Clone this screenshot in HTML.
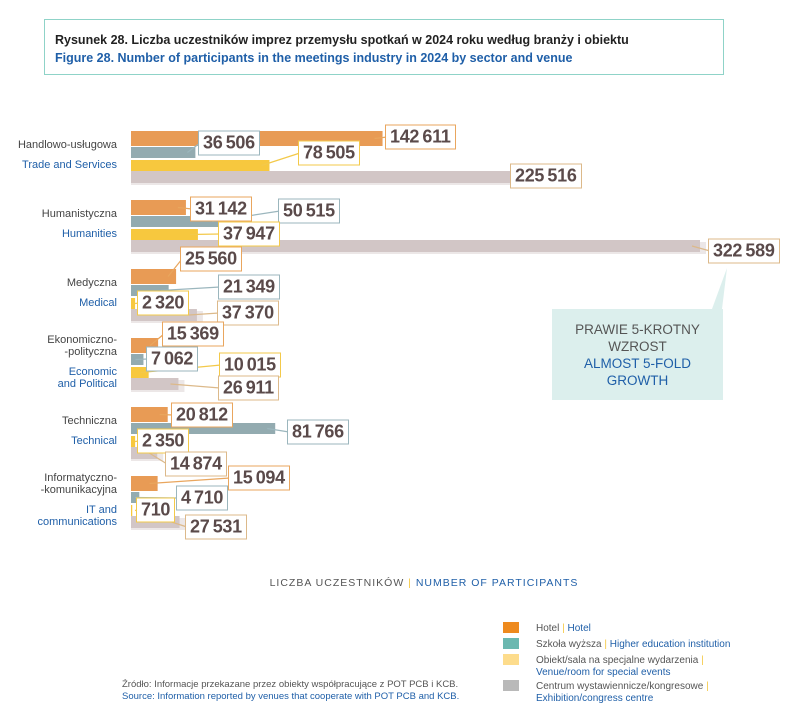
<!DOCTYPE html>
<html><head><meta charset="utf-8"><style>
body{margin:0;width:796px;height:721px;background:#fff;font-family:"Liberation Sans",sans-serif;position:relative;overflow:hidden}
.abs{position:absolute}
.title{left:44px;top:19px;width:680px;height:56px;border:1.5px solid #8fd3c8;box-sizing:border-box}
.t1{left:10px;top:13px;font-size:12.5px;font-weight:bold;color:#222;white-space:nowrap}
.t2{left:10px;top:31px;font-size:12.5px;font-weight:bold;color:#1f5fa8;white-space:nowrap}
.cat{right:679px;font-size:11px;text-align:right;white-space:nowrap;line-height:12px}
.k{color:#444}.b{color:#1f5fa8}
.lbl{background:#fff;font-size:18px;font-weight:bold;color:#5a4a4a;padding:1px 4px;border:1.3px solid;white-space:nowrap;line-height:21px;letter-spacing:-0.3px;transform:translateY(-50%)}
.leg{font-size:10px;color:#555;white-space:nowrap;line-height:12px}
.sw{width:16px;height:11px}
</style></head><body>
<div class="abs title">
<div class="abs t1">Rysunek 28. Liczba uczestników imprez przemysłu spotkań w 2024 roku według branży i obiektu</div>
<div class="abs t2">Figure 28. Number of participants in the meetings industry in 2024 by sector and venue</div>
</div>
<svg class="abs" style="left:0;top:0" width="796" height="721" id="chart"></svg>
<div id="layer"></div>
<div class="abs" style="left:552px;top:309px;width:171px;height:91px;background:#dcefed">
<div style="text-align:center;font-size:13.5px;line-height:17px;margin-top:12px;color:#555">PRAWIE 5-KROTNY<br>WZROST<br><span style="color:#1f5fa8">ALMOST 5-FOLD<br>GROWTH</span></div></div>
<div class="abs" style="left:0;top:577px;width:848px;text-align:center;font-size:10.5px;letter-spacing:1px;color:#555">LICZBA UCZESTNIKÓW <span style="color:#f5c842">|</span> <span style="color:#1f5fa8">NUMBER OF PARTICIPANTS</span></div>
<div class="abs sw" style="left:503px;top:622px;background:#ee8a1e"></div>
<div class="abs leg" style="left:536px;top:623px">Hotel <span style="color:#f5c842">|</span> <span class="b">Hotel</span></div>
<div class="abs sw" style="left:503px;top:638px;background:#6bb8b0"></div>
<div class="abs leg" style="left:536px;top:639px">Szkoła wyższa <span style="color:#f5c842">|</span> <span class="b">Higher education institution</span></div>
<div class="abs sw" style="left:503px;top:654px;background:#fddc8c"></div>
<div class="abs leg" style="left:536px;top:655px">Obiekt/sala na specjalne wydarzenia <span style="color:#f5c842">|</span><br><span class="b">Venue/room for special events</span></div>
<div class="abs sw" style="left:503px;top:680px;background:#b9b9b9"></div>
<div class="abs leg" style="left:536px;top:681px">Centrum wystawiennicze/kongresowe <span style="color:#f5c842">|</span><br><span class="b">Exhibition/congress centre</span></div>
<div class="abs leg" style="left:122px;top:679px;font-size:9.5px">Źródło: Informacje przekazane przez obiekty współpracujące z POT PCB i KCB.<br><span class="b">Source: Information reported by venues that cooperate with POT PCB and KCB.</span></div>
<script>
const categoriesPl=["Handlowo-usługowa","Humanistyczna","Medyczna","Ekonomiczno-\n-polityczna","Techniczna","Informatyczno-\n-komunikacyjna"];
const categoriesEn=["Trade and Services","Humanities","Medical","Economic\nand Political","Technical","IT and\ncommunications"];
const hotel=[142611,31142,25560,15369,20812,15094];
const higherEd=[36506,50515,21349,7062,81766,4710];
const venue=[78505,37947,2320,10015,2350,710];
const exhibition=[225516,322589,37370,26911,14874,27531];
const series=[hotel,higherEd,venue,exhibition];
const fills=["#e89b55","#93abb0","#f7c83e","#d2c6c6"];
const borders=["#e9a65e","#9bb6bd","#f3c94a","#dcb98a"];
// label box layout (pixel offsets, not data): [left x, y offset in group]
const labelPos=[
[[385,6],[198,12],[298,22],[510,45]],
[[190,9],[278,11],[218,34],[708,51]],
[[180,-10],[218,18],[137,34],[217,44]],
[[162,-4],[146,21],[219,27],[218,50]],
[[171,8],[287,25],[137,34],[165,57]],
[[228,2],[176,22],[136,34],[185,51]]];
const x0=131,scale=569/322589,g0=131,gStep=69,barTops=[0,16,29,40],barH=[15,11,11,12];
const xs=v=>x0+v*scale;
const fmt=v=>String(v).replace(/\B(?=(\d{3})+(?!\d))/g,"\u2009");
const svg=document.getElementById('chart'),NS="http://www.w3.org/2000/svg";
const layer=document.getElementById('layer');
function mk(t,a){const e=document.createElementNS(NS,t);for(const k in a)e.setAttribute(k,a[k]);svg.appendChild(e);return e;}
const tri=mk('polygon',{points:"712,309 722,309 727,268",fill:"#dcefed"});


categoriesPl.forEach((c,i)=>{
 const gy=g0+i*gStep;
 series.forEach((s,j)=>{
  const y=gy+barTops[j];
  if(j===3){const sh=mk('rect',{x:x0,y:y+2,width:xs(s[i])-x0+6,height:barH[j],fill:"#ece7e7"});}
  const r=mk('rect',{x:x0,y:y,width:xs(s[i])-x0,height:barH[j],fill:fills[j]});
  
  
  const [lx,ly]=labelPos[i][j];
  const ln=mk('line',{x1:Math.max(xs(s[i])-8,x0+4),y1:y+barH[j]/2,x2:lx+2,y2:gy+ly,stroke:borders[j],"stroke-width":1.2});
  
  
  const d=document.createElement('div');
  d.className='abs lbl';d.style.left=lx+'px';d.style.top=(gy+ly)+'px';d.style.borderColor=borders[j];
  d.textContent=fmt(s[i]);
  
  
  layer.appendChild(d);
 });
 const pl=document.createElement('div');pl.className='abs cat k';
 const nl=c.split('\n').length;pl.style.top=(gy+14-(nl-1)*12-6)+'px';pl.innerHTML=c.replace('\n','<br>');
 
 
 layer.appendChild(pl);
 const en=document.createElement('div');en.className='abs cat b';
 en.style.top=(gy+28)+'px';en.innerHTML=categoriesEn[i].replace('\n','<br>');
 
 
 layer.appendChild(en);
});
</script>
</body></html>
